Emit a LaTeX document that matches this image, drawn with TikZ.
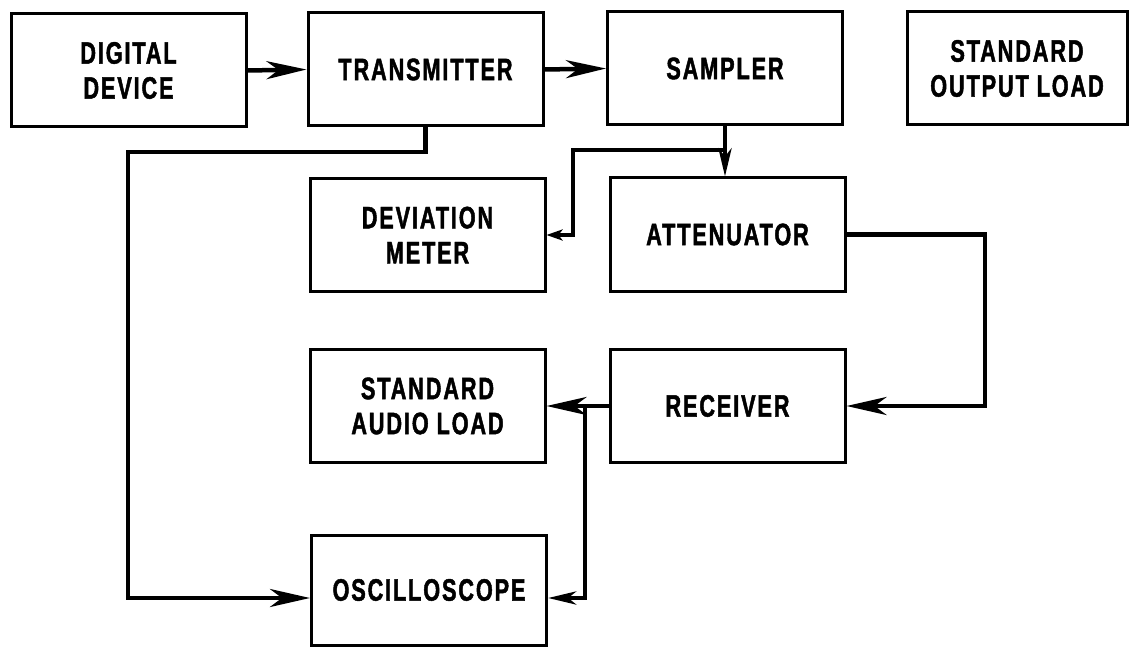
\documentclass[tikz,border=0pt]{standalone}
\usepackage{fontspec}
\setmainfont{Liberation Sans}[FakeStretch=0.7,LetterSpace=6,BoldFeatures={FakeBold=1.5}]
\usetikzlibrary{arrows.meta}
\begin{document}
\begin{tikzpicture}[x=1pt,y=-1pt,
  every node/.style={draw,line width=3pt,minimum width=235pt,minimum height=113pt,align=center,font=\fontsize{31}{35}\selectfont\bfseries},
  arr/.style={line width=4.5pt,-{Stealth[length=40pt,width=18pt,inset=12pt]}},
  arrs/.style={line width=4.5pt,-{Stealth[length=28pt,width=13pt,inset=8pt]}},
  arrt/.style={line width=3.5pt,-{Stealth[length=16pt,width=11pt,inset=4pt]}}]
\useasboundingbox (0,0) rectangle (1130,647);
\node (n0) at (128.5,70.5) {DIGITAL\\DEVICE};
\node (n1) at (425.5,69.5) {TRANSMITTER};
\node (n2) at (725,68.5) {SAMPLER};
\node[minimum width=220pt] (n3) at (1017,68.5) {STANDARD\\OUTPUT LOAD};
\node (n4) at (427.5,235) {DEVIATION\\METER};
\node (n5) at (727.5,234.5) {ATTENUATOR};
\node (n6) at (427.5,406) {STANDARD\\AUDIO LOAD};
\node (n7) at (727.5,406) {RECEIVER};
\node[minimum height=110pt] (n8) at (429,590) {OSCILLOSCOPE};
\coordinate (c1) at (128,152);
\coordinate (c2) at (128,598);
\coordinate (c3) at (725,150);
\coordinate (c4) at (573,235);
\coordinate (c5) at (985,406);
\coordinate (c6) at (585,406);
\coordinate (c7) at (585,598);
\draw[arr] (n0.east) -- (n1.west);
\draw[arr] (n1.east) -- (n2.west);
\draw[arrs] (n2.south) -- (n2.south |- n5.north);
\draw[arrt] (c3) -| (c4) -- (n4.east);
\draw[arr] (n1.south) |- (c1) -- (c2) -- (c2 -| n8.west);
\draw[arr] (n5.east) -| (c5) -- (n7.east);
\draw[arr] (n7.west) -- (n6.east);
\draw[arrs] (c6) -- (c7) -- (c7 -| n8.east);
\end{tikzpicture}
\end{document}
